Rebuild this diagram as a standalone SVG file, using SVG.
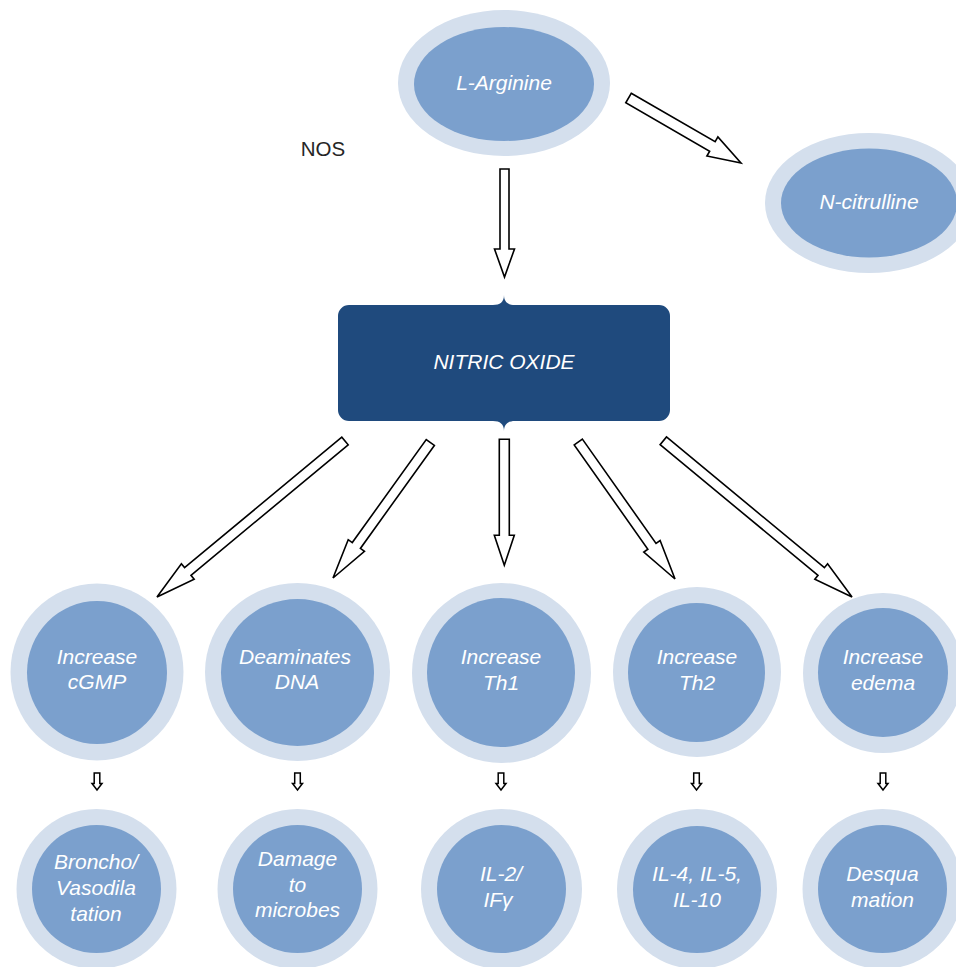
<svg xmlns="http://www.w3.org/2000/svg" width="956" height="967" viewBox="0 0 956 967">
<defs>
<style>
.outer{fill:#D4DFED}
.inner{fill:#7BA0CD}
.lbl{font-family:"Liberation Sans",Arial,sans-serif;font-style:italic;font-size:21px;fill:#FFFFFF;text-anchor:middle}
.arr{fill:#FFFFFF;stroke:#000000;stroke-width:1.6;stroke-linejoin:miter}
.sarr{fill:#FFFFFF;stroke:#000000;stroke-width:1.5}
</style>
<path id="small" d="M-2.8,0 V10.5 H-5 L0,17 L5,10.5 H2.8 V0 Z"/>
</defs>
<rect width="956" height="967" fill="#FFFFFF"/>

<g id="connectors">
<polygon class="arr" points="0,-4.5 80,-4.5 80,-10 108,0 80,10 80,4.5 0,4.5" transform="translate(504.5,169) rotate(90)"/>
<polygon class="arr" points="0,-5.5 96.9,-5.5 96.9,-11 129.9,0 96.9,11 96.9,5.5 0,5.5" transform="translate(628.5,98) rotate(30.02)"/>
<polygon class="arr" points="0,-5 204.3,-5 204.3,-10 244.3,0 204.3,10 204.3,5 0,5" transform="translate(345,441) rotate(140.32)"/>
<polygon class="arr" points="0,-5 126.8,-5 126.8,-10 166.8,0 126.8,10 126.8,5 0,5" transform="translate(430.3,442.5) rotate(125.68)"/>
<polygon class="arr" points="0,-5 96,-5 96,-10 126,0 96,10 96,5 0,5" transform="translate(504.3,439.3) rotate(90)"/>
<polygon class="arr" points="0,-5 127.7,-5 127.7,-10 167.7,0 127.7,10 127.7,5 0,5" transform="translate(578.3,442) rotate(54.78)"/>
<polygon class="arr" points="0,-5 205,-5 205,-10 245,0 205,10 205,5 0,5" transform="translate(663.3,440.8) rotate(39.62)"/>
<use href="#small" class="sarr" x="97" y="773"/>
<use href="#small" class="sarr" x="297.5" y="773"/>
<use href="#small" class="sarr" x="501" y="773"/>
<use href="#small" class="sarr" x="696.5" y="773"/>
<use href="#small" class="sarr" x="883" y="773"/>
</g>

<g id="nos">
<text x="323" y="156" font-family="'Liberation Sans',Arial,sans-serif" font-size="20.5" fill="#262626" text-anchor="middle">NOS</text>
</g>

<g id="l-arginine">
<ellipse class="outer" cx="504" cy="83" rx="106" ry="73"/>
<ellipse class="inner" cx="504" cy="84" rx="90" ry="57"/>
<text class="lbl" x="504" y="90">L-Arginine</text>
</g>

<g id="n-citrulline">
<ellipse class="outer" cx="869" cy="203" rx="104" ry="70"/>
<ellipse class="inner" cx="869" cy="203" rx="88" ry="54.5"/>
<text class="lbl" x="869" y="209">N-citrulline</text>
</g>

<g id="nitric-oxide">
<path fill="#1F4A7D" d="M349,305 H493 C500,305 504,302 504,295 C504,302 508,305 515,305 H659 A11,11 0 0 1 670,316 V410 A11,11 0 0 1 659,421 H515 C508,421 504,424 504,431 C504,424 500,421 493,421 H349 A11,11 0 0 1 338,410 V316 A11,11 0 0 1 349,305 Z"/>
<text class="lbl" x="504" y="369">NITRIC OXIDE</text>
</g>

<g id="increase-cgmp">
<ellipse class="outer" cx="97" cy="672" rx="86.5" ry="88.5"/>
<ellipse class="inner" cx="97" cy="672.5" rx="70" ry="71.5"/>
<text class="lbl" x="97" y="664">Increase</text>
<text class="lbl" x="97" y="689">cGMP</text>
</g>

<g id="deaminates-dna">
<ellipse class="outer" cx="297.5" cy="672" rx="92.5" ry="89"/>
<ellipse class="inner" cx="297.5" cy="672.5" rx="76.5" ry="73.5"/>
<text class="lbl" x="295" y="664">Deaminates</text>
<text class="lbl" x="297" y="689">DNA</text>
</g>

<g id="increase-th1">
<ellipse class="outer" cx="501.5" cy="673" rx="89.5" ry="90"/>
<ellipse class="inner" cx="501" cy="672.5" rx="74" ry="74.5"/>
<text class="lbl" x="501" y="664">Increase</text>
<text class="lbl" x="501" y="690">Th1</text>
</g>

<g id="increase-th2">
<ellipse class="outer" cx="697" cy="672" rx="84" ry="85"/>
<ellipse class="inner" cx="696.5" cy="672.5" rx="68.5" ry="69.5"/>
<text class="lbl" x="697" y="664">Increase</text>
<text class="lbl" x="697" y="690">Th2</text>
</g>

<g id="increase-edema">
<ellipse class="outer" cx="883" cy="673" rx="80" ry="80"/>
<ellipse class="inner" cx="883" cy="672.5" rx="65" ry="64.5"/>
<text class="lbl" x="883" y="664">Increase</text>
<text class="lbl" x="883" y="690">edema</text>
</g>

<g id="bronchodilatation">
<ellipse class="outer" cx="96.5" cy="889" rx="80" ry="80"/>
<ellipse class="inner" cx="96.5" cy="889" rx="64.5" ry="64"/>
<text class="lbl" x="96" y="869">Broncho/</text>
<text class="lbl" x="96" y="895">Vasodila</text>
<text class="lbl" x="96" y="921">tation</text>
</g>

<g id="damage-microbes">
<ellipse class="outer" cx="297.5" cy="889" rx="80" ry="80"/>
<ellipse class="inner" cx="297.5" cy="889" rx="64.5" ry="64"/>
<text class="lbl" x="297.5" y="866">Damage</text>
<text class="lbl" x="297.5" y="892">to</text>
<text class="lbl" x="297.5" y="917">microbes</text>
</g>

<g id="il2-ifg">
<ellipse class="outer" cx="501.5" cy="889" rx="80.5" ry="80"/>
<ellipse class="inner" cx="501.5" cy="889" rx="64.5" ry="64"/>
<text class="lbl" x="501" y="881">IL-2/</text>
<text class="lbl" x="498" y="907">IFγ</text>
</g>

<g id="il4-il5-il10">
<ellipse class="outer" cx="697" cy="889" rx="80" ry="80"/>
<ellipse class="inner" cx="697" cy="889.5" rx="64" ry="63.5"/>
<text class="lbl" x="697" y="881">IL-4, IL-5,</text>
<text class="lbl" x="697" y="907">IL-10</text>
</g>

<g id="desquamation">
<ellipse class="outer" cx="882.5" cy="889" rx="80" ry="80"/>
<ellipse class="inner" cx="882.5" cy="889" rx="64.5" ry="64"/>
<text class="lbl" x="882.5" y="881">Desqua</text>
<text class="lbl" x="882.5" y="907">mation</text>
</g>
</svg>
